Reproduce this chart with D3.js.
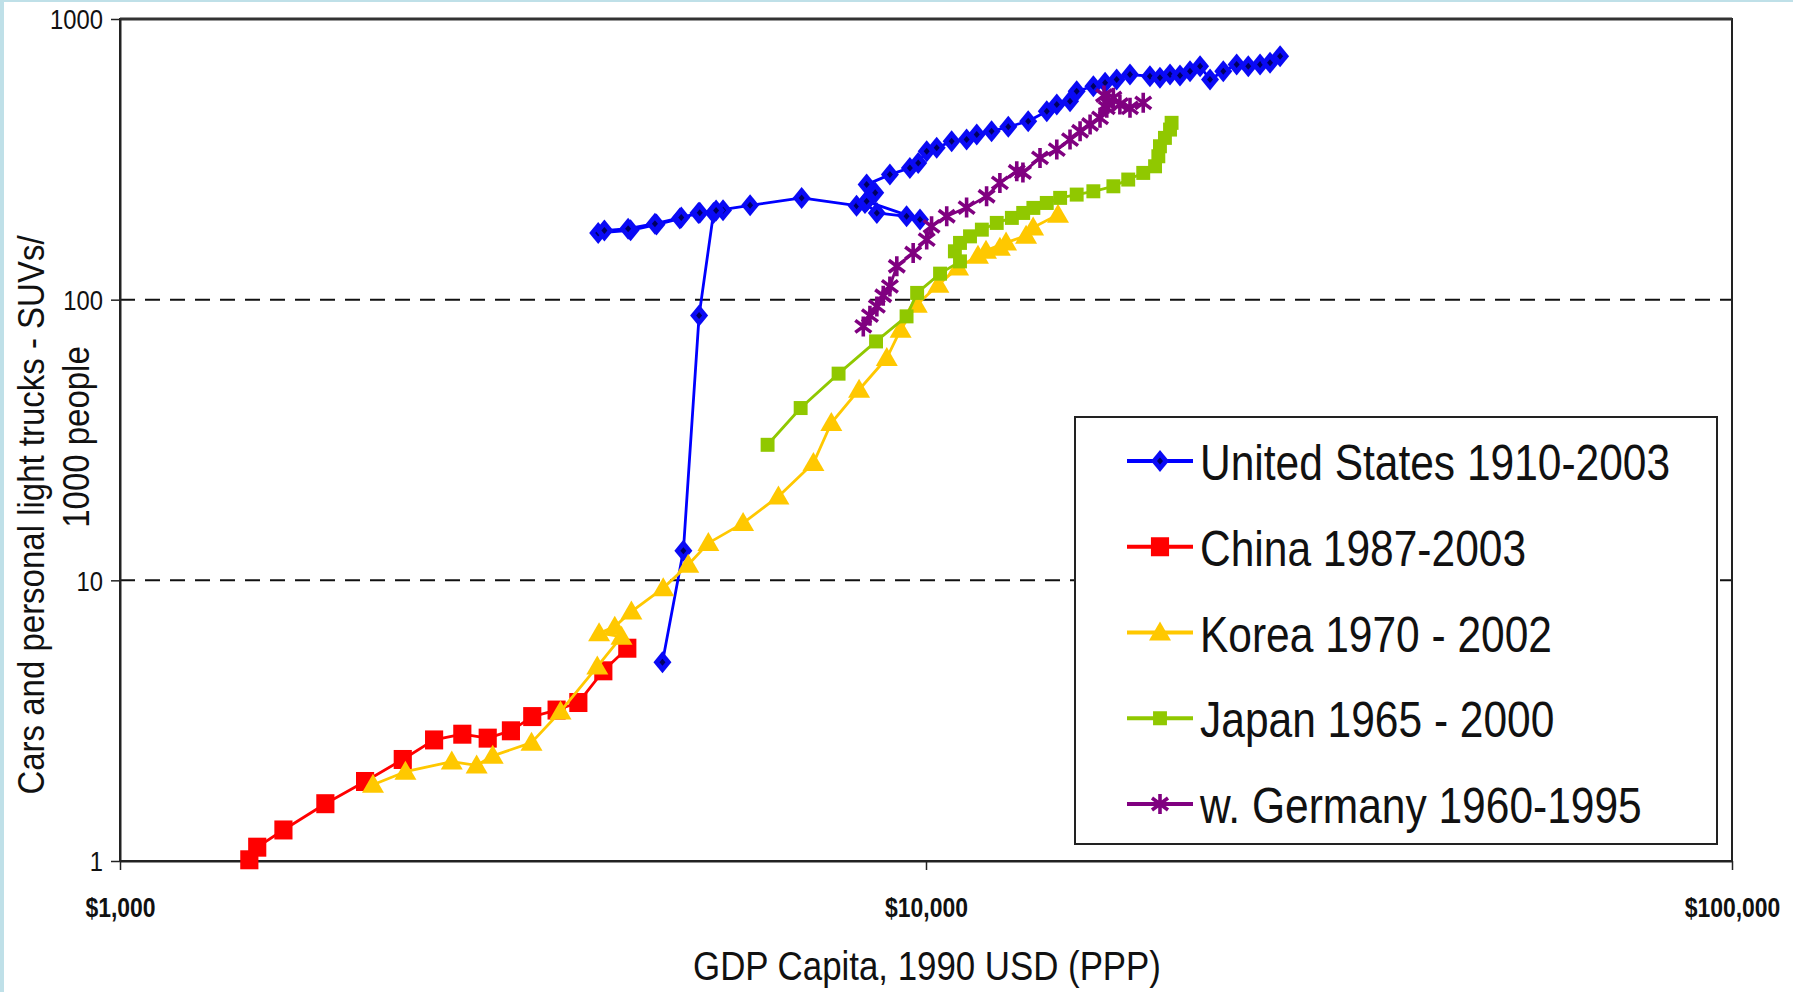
<!DOCTYPE html>
<html>
<head>
<meta charset="utf-8">
<script src="https://cdn.jsdelivr.net/npm/d3@7"></script>
<style>
  html, body { margin: 0; padding: 0; background: #fff; }
  svg { display: block; }
  text { font-family: "Liberation Sans", Arial, sans-serif; fill: #111; }
</style>
</head>
<body>
<svg id="chart" width="1793" height="992"></svg>
<script>
// ---- data: GDP per capita (1990 USD, PPP) vs cars + light trucks per 1000 people ----
const usGdp = [4710,5000,5230,5450,5600,5220,4950,4630,4300,3920,3990,4270,4610,4970,5240,
  5490,6050,7010,8200,8400,8690,9460,9830,8440,8650,8440,9020,9550,9780,10020,10310,10760,
  11230,11560,12060,12650,13390,14120,14530,15090,15380,16130,16680,17240,17910,18960,19510,
  20080,20660,21260,21880,22510,23380,24290,25110,25970,26720,27500];
const usCars = [5.11,12.74,87.9,203.7,208.2,203.7,194.5,185.1,176.6,172.9,176.2,179.1,186.6,
  196.1,204.2,207.7,216.9,230.5,216.3,221.1,203.7,198.2,192.9,224.0,240.2,257.0,279.0,294.8,
  307.1,337.9,347.4,366.7,371.9,387.5,398.1,412.8,432.3,469.2,495.7,509.3,552.7,576.0,592.3,
  608.6,634.1,625.4,617.2,634.1,629.0,651.6,678.8,608.6,651.6,688.4,678.8,688.4,698.1,737.0];

const chinaGdp = [1447,1480,1595,1798,2014,2243,2453,2659,2859,3055,3247,3481,3704,3978,4260];
const chinaCars = [1.01,1.12,1.29,1.60,1.92,2.30,2.70,2.83,2.74,2.91,3.27,3.45,3.67,4.76,5.73];

const koreaGdp = [2060,2260,2580,2770,2900,3240,3520,3910,4190,3930,4110,4310,4720,5070,5370,
  5930,6560,7250,7630,8260,8940,9300,9740,10360,10960,11600,12350,11870,12570,13310,13580,14580];
const koreaCars = [1.87,2.08,2.26,2.19,2.37,2.64,3.41,4.93,6.30,6.48,6.84,7.74,9.38,11.36,13.57,
  15.99,19.90,26.17,36.35,47.77,61.96,78.16,95.98,113.1,130.1,143.5,153.2,149.5,159.7,169.1,180.6,200.9];

const japanGdp = [6360,6990,7790,8670,9460,9750,10410,11020,10860,11020,11340,11730,12240,12780,
  13200,13590,14120,14670,15380,16130,17080,17820,18600,19240,19420,19510,19790,20080,20170];
const japanCars = [30.4,41.1,54.5,71.0,87.2,105.7,123.8,136.9,148.7,159.3,168.1,177.6,187.7,195.6,
  203.7,212.3,221.1,230.5,236.8,243.3,253.5,267.9,282.9,298.7,324.3,352.0,377.1,403.7,426.6];

const germanyGdp = [8360,8520,8690,8850,9020,9200,9640,10020,10160,10610,11230,11890,12350,12960,
  13190,13850,14530,15090,15530,15980,16440,16760,17080,16820,16630,17400,17910,18600];
const germanyCars = [80.3,87.7,94.6,103.3,111.5,131.5,146.7,163.7,182.5,198.2,212.8,233.5,260.6,
  286.7,283.7,320.0,342.6,371.9,398.1,420.8,444.5,482.4,523.8,499.7,533.7,495.7,482.4,502.6];

const seriesNames = ["United States 1910-2003", "China 1987-2003", "Korea 1970 - 2002",
  "Japan 1965 - 2000", "w. Germany 1960-1995"];
const xTickValues = [1000, 10000, 100000];
const yTickValues = [1, 10, 100, 1000];
const gridValues = [10, 100];
const xTitle = "GDP Capita, 1990 USD (PPP)";
const yTitleLines = ["Cars and personal light trucks - SUVs/", "1000 people"];

// ---- layout ----
const W = 1793, H = 992;
const plot = { left: 120, right: 1732, top: 19, bottom: 861 };
const SX = 0.85; // horizontal squeeze for horizontal text

const svg = d3.select("#chart");
svg.append("rect").attr("width", W).attr("height", H).attr("fill", "#fff");
// thin tinted frame on the left and top edge
svg.append("rect").attr("x", 0).attr("y", 0).attr("width", 4).attr("height", H).attr("fill", "#bfe0e8");
svg.append("rect").attr("x", 0).attr("y", 0).attr("width", W).attr("height", 2).attr("fill", "#bfe0e8");

const x = d3.scaleLog().domain([1000, 100000]).range([plot.left, plot.right]);
const y = d3.scaleLog().domain([1, 1000]).range([plot.bottom, plot.top]);

// dashed reference lines
svg.append("g").selectAll("line").data(gridValues).join("line")
  .attr("x1", plot.left).attr("x2", plot.right)
  .attr("y1", d => y(d)).attr("y2", d => y(d))
  .attr("stroke", "#111").attr("stroke-width", 2).attr("stroke-dasharray", "15,10");

// plot frame
svg.append("rect")
  .attr("x", plot.left).attr("y", plot.top)
  .attr("width", plot.right - plot.left).attr("height", plot.bottom - plot.top)
  .attr("fill", "none").attr("stroke", "#222").attr("stroke-width", 2);
svg.append("line").attr("x1", plot.left).attr("x2", plot.right)
  .attr("y1", plot.top).attr("y2", plot.top).attr("stroke", "#333").attr("stroke-width", 3);

// axes
const xAxis = svg.append("g")
  .attr("transform", `translate(0,${plot.bottom})`)
  .call(d3.axisBottom(x).tickValues(xTickValues).tickSize(9).tickSizeOuter(0)
    .tickFormat(d => "$" + d3.format(",")(d)));
xAxis.select(".domain").attr("stroke", "#222").attr("stroke-width", 2);
xAxis.selectAll(".tick line").attr("stroke", "#222").attr("stroke-width", 1.5);
xAxis.selectAll(".tick text")
  .attr("y", null).attr("dy", null)
  .attr("transform", `translate(0,46) scale(${SX},1)`)
  .attr("dominant-baseline", "central")
  .style("font-size", "27px").style("font-weight", "bold").style("font-family", "'Liberation Sans', Arial, sans-serif")
  .attr("fill", "#111");

const yAxis = svg.append("g")
  .attr("transform", `translate(${plot.left},0)`)
  .call(d3.axisLeft(y).tickValues(yTickValues).tickSize(9).tickSizeOuter(0)
    .tickFormat(d3.format("d")));
yAxis.select(".domain").attr("stroke", "#222").attr("stroke-width", 2);
yAxis.selectAll(".tick line").attr("stroke", "#222").attr("stroke-width", 1.5);
yAxis.selectAll(".tick text")
  .attr("x", null).attr("dy", null)
  .attr("transform", `translate(-17,0) scale(${SX},1)`)
  .attr("text-anchor", "end").attr("dominant-baseline", "central")
  .style("font-size", "28px").style("font-family", "'Liberation Sans', Arial, sans-serif")
  .attr("fill", "#111");

// axis titles
svg.append("text")
  .attr("transform", `translate(927,966) scale(${SX},1)`)
  .attr("text-anchor", "middle").attr("dominant-baseline", "central")
  .style("font-size", "41px").text(xTitle);

const yTitlePos = [[31, 515], [76, 437]];
yTitleLines.forEach((t, i) => {
  svg.append("text")
    .attr("transform", `translate(${yTitlePos[i][0]},${yTitlePos[i][1]}) scale(1.1,1) rotate(-90)`)
    .attr("text-anchor", "middle").attr("dominant-baseline", "central")
    .style("font-size", "33px").text(t);
});

// ---- marker shapes ----
function diamond(g, c) {
  g.append("path").attr("d", "M0,-11L9,0L0,11L-9,0Z").attr("fill", c.fill);
  g.append("path").attr("d", "M0,-3.5L3,0L0,3.5L-3,0Z").attr("fill", "#000060");
}
function square(s) {
  return (g, c) => g.append("rect").attr("x", -s * SX / 2 - 1).attr("y", -s / 2)
    .attr("width", s * SX + 2).attr("height", s).attr("fill", c.fill);
}
function triangle(g, c) {
  g.append("path").attr("d", "M0,-11L11,8L-11,8Z").attr("fill", c.fill);
}
function star(g, c) {
  const r = 10, dx = 8, dy = 6;
  g.append("path")
    .attr("d", `M0,${-r}L0,${r}M${-dx},${-dy}L${dx},${dy}M${-dx},${dy}L${dx},${-dy}`)
    .attr("stroke", c.fill).attr("stroke-width", 3.6).attr("fill", "none");
}

const series = [
  { name: seriesNames[0], gdp: usGdp, cars: usCars, color: "#0000ff", fill: "#0a0af5", marker: diamond, width: 2.8 },
  { name: seriesNames[1], gdp: chinaGdp, cars: chinaCars, color: "#ff0000", fill: "#ff0000", marker: square(19), width: 2.8 },
  { name: seriesNames[2], gdp: koreaGdp, cars: koreaCars, color: "#ffc800", fill: "#ffc800", marker: triangle, width: 2.8 },
  { name: seriesNames[3], gdp: japanGdp, cars: japanCars, color: "#90c800", fill: "#90c800", marker: square(14), width: 2.8 },
  { name: seriesNames[4], gdp: germanyGdp, cars: germanyCars, color: "#800080", fill: "#800080", marker: star, width: 2.8 }
];

const line = d3.line().x(d => x(d[0])).y(d => y(d[1]));

series.forEach(s => {
  const pts = s.gdp.map((g, i) => [g, s.cars[i]]);
  const g = svg.append("g");
  g.append("path").datum(pts).attr("d", line)
    .attr("fill", "none").attr("stroke", s.color).attr("stroke-width", s.width)
    .attr("stroke-linejoin", "round");
  pts.forEach(p => {
    const m = g.append("g").attr("transform", `translate(${x(p[0])},${y(p[1])})`);
    s.marker(m, s);
  });
});

// ---- legend ----
const legend = svg.append("g");
legend.append("rect").attr("x", 1075).attr("y", 417).attr("width", 642).attr("height", 427)
  .attr("fill", "#fff").attr("stroke", "#222").attr("stroke-width", 2);
const legendY = d3.scalePoint().domain(seriesNames).range([461, 804]);
series.forEach(s => {
  const yy = legendY(s.name);
  legend.append("line").attr("x1", 1127).attr("x2", 1193).attr("y1", yy).attr("y2", yy)
    .attr("stroke", s.color).attr("stroke-width", 4);
  const m = legend.append("g").attr("transform", `translate(1160,${yy})`);
  s.marker(m, s);
  legend.append("text")
    .attr("transform", `translate(1200,${yy + 2}) scale(${SX},1)`)
    .attr("dominant-baseline", "central")
    .style("font-size", "50px").text(s.name);
});
</script>
</body>
</html>
